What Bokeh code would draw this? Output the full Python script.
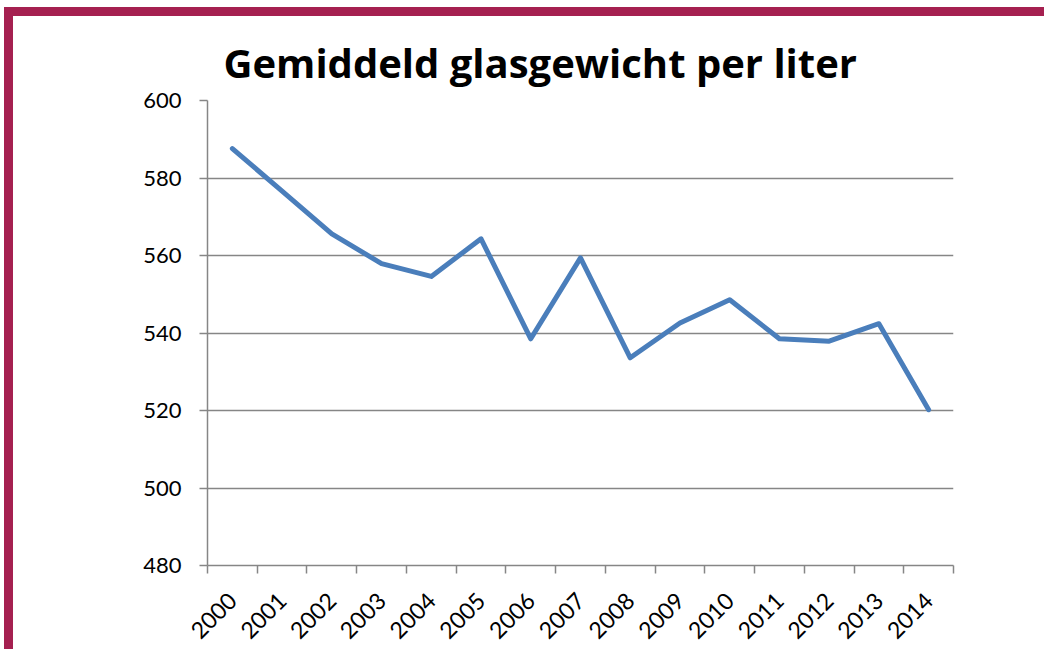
from bokeh.plotting import figure
from bokeh.models import FixedTicker
from bokeh.embed import file_html
from bokeh.resources import INLINE

title = "Gemiddeld glasgewicht per liter"
years = ["2000", "2001", "2002", "2003", "2004", "2005", "2006", "2007",
         "2008", "2009", "2010", "2011", "2012", "2013", "2014"]
weights = [587.6, 576.6, 565.6, 557.9, 554.6, 564.3, 538.5, 559.4,
           533.6, 542.6, 548.6, 538.5, 537.9, 542.4, 520.2]
y_ticks = [480, 500, 520, 540, 560, 580, 600]

x_pos = [i + 0.5 for i in range(len(years))]
boundaries = list(range(len(years) + 1))

FONT = "Lato"
AXIS_GREY = "#868686"
FRAME_RED = "#a52050"

p = figure(frame_width=746, frame_height=465,
           min_border_left=194, min_border_top=84,
           min_border_right=91, min_border_bottom=81,
           x_range=(0, len(years)), y_range=(y_ticks[0], y_ticks[-1]),
           output_backend="svg", toolbar_location=None)
p.styles = {"border-top": f"9px solid {FRAME_RED}",
            "border-left": f"9px solid {FRAME_RED}",
            "margin-left": "4px", "margin-top": "7px"}
p.outline_line_color = None
p.background_fill_color = "white"
p.border_fill_color = "white"

p.title.text = title
p.title.align = "left"
p.title.offset = 16
p.title.standoff = 22
p.title.text_font = "Open Sans"
p.title.text_font_style = "bold"
p.title.text_font_size = "40px"
p.title.text_color = "black"

p.line(x_pos, weights, line_color="#4a7ebb", line_width=5,
       line_join="round", line_cap="round")

# x axis: labels at category centres, ticks at category boundaries
p.xaxis.ticker = FixedTicker(ticks=x_pos, minor_ticks=boundaries)
p.xaxis.major_label_overrides = {x: y for x, y in zip(x_pos, years)}
p.xaxis.major_tick_out = 0
p.xaxis.major_tick_in = 0
p.xaxis.minor_tick_out = 8
p.xaxis.minor_tick_in = 0
p.xaxis.minor_tick_line_color = AXIS_GREY
p.xaxis.major_label_orientation = 0.785398
p.xaxis.major_label_standoff = 23

p.yaxis.ticker = FixedTicker(ticks=y_ticks)
p.yaxis.major_tick_out = 8
p.yaxis.major_tick_in = 0
p.yaxis.minor_tick_line_color = None
p.yaxis.major_label_standoff = 18

for ax in (p.xaxis, p.yaxis):
    ax.axis_line_color = AXIS_GREY
    ax.axis_line_width = 1.5
    ax.major_tick_line_color = AXIS_GREY
    ax.major_tick_line_width = 1.5
    ax.minor_tick_line_width = 1.5
    ax.major_label_text_font = FONT
    ax.major_label_text_color = "black"
p.yaxis.major_label_text_font_size = "22px"
p.xaxis.major_label_text_font_size = "23px"

p.xgrid.grid_line_color = None
p.ygrid.ticker = FixedTicker(ticks=y_ticks)
p.ygrid.grid_line_color = AXIS_GREY
p.ygrid.grid_line_width = 1.5

open("out.html", "w").write(file_html(p, INLINE))
